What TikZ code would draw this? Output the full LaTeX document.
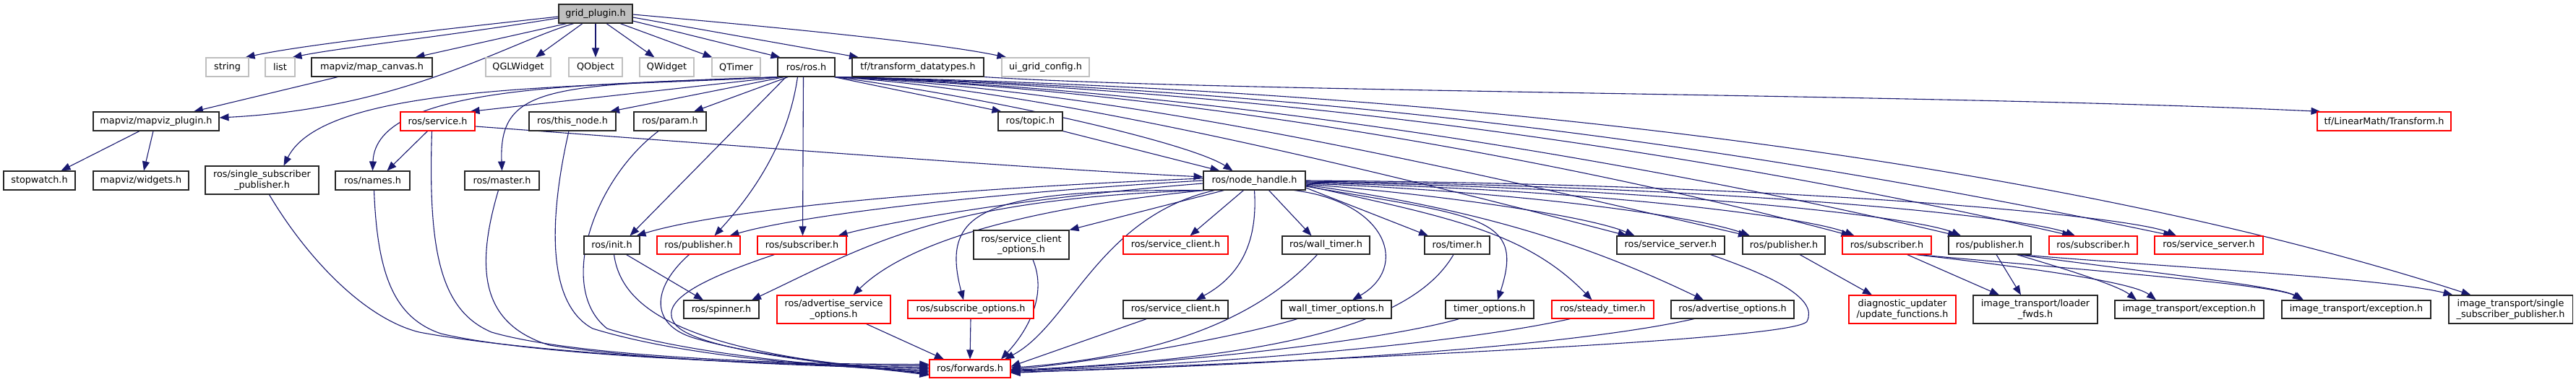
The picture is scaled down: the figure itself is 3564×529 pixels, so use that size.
\documentclass[tikz,border=0pt]{standalone}
\usepackage{fontspec}
\setmainfont{DejaVu Sans}
\usetikzlibrary{arrows.meta}
\definecolor{edgecol}{HTML}{191970}
\definecolor{graybd}{HTML}{BFBFBF}
\definecolor{gpfill}{HTML}{BFBFBF}
\pgfdeclarelayer{bg}
\pgfsetlayers{bg,main}
\begin{document}
\begin{tikzpicture}[x=1pt,y=-1pt,
  box/.style={draw=black!85, line width=1.1pt, fill=white, inner sep=0pt, align=center,
    font=\fontsize{12.8pt}{14.3pt}\selectfont, minimum height=26pt},
  redbox/.style={box, draw=red},
  graybox/.style={box, draw=graybd},
  edge/.style={draw=edgecol, line width=1.1pt, -{Triangle[length=13pt,width=10pt]}}]
\path[use as bounding box] (0,0) rectangle (3564,529);

% row 0
\node[box, fill=gpfill, minimum width=102pt] (gp) at (824,19) {grid\_plugin.h};
% row 1
\node[graybox, minimum width=59pt] (string) at (314.5,93) {string};
\node[graybox, minimum width=41pt] (list) at (387.5,93) {list};
\node[box, minimum width=167pt] (mapcanvas) at (514.5,93) {mapviz/map\_canvas.h};
\node[graybox, minimum width=90pt] (qgl) at (717,93) {QGLWidget};
\node[graybox, minimum width=74pt] (qobj) at (824,93) {QObject};
\node[graybox, minimum width=75pt] (qwid) at (922.5,93) {QWidget};
\node[graybox, minimum width=67pt] (qtimer) at (1018.5,93) {QTimer};
\node[box, minimum width=79pt] (rosros) at (1115.5,93) {ros/ros.h};
\node[box, minimum width=182pt] (tfdt) at (1270,93) {tf/transform\_datatypes.h};
\node[graybox, minimum width=121pt] (uigrid) at (1446.5,93) {ui\_grid\_config.h};
% row 2
\node[box, minimum width=174pt] (mvplugin) at (216,168) {mapviz/mapviz\_plugin.h};
\node[redbox, minimum width=103pt] (service) at (605.5,168) {ros/service.h};
\node[box, minimum width=120pt] (thisnode) at (792,168) {ros/this\_node.h};
\node[box, minimum width=100pt] (param) at (927,168) {ros/param.h};
\node[box, minimum width=89pt] (topic) at (1425.5,168) {ros/topic.h};
\node[redbox, minimum width=185pt] (lmtransform) at (3298.5,168) {tf/LinearMath/Transform.h};
% row 3
\node[box, minimum width=99pt] (stopwatch) at (54.5,250) {stopwatch.h};
\node[box, minimum width=132pt] (widgets) at (195,250) {mapviz/widgets.h};
\node[box, minimum width=157pt, minimum height=39pt] (rssp) at (362.5,249.5) {ros/single\_subscriber\\\_publisher.h};
\node[box, minimum width=103pt] (names) at (515.5,250) {ros/names.h};
\node[box, minimum width=103pt] (master) at (694.5,250) {ros/master.h};
\node[box, minimum width=141pt] (nh) at (1735.5,250) {ros/node\_handle.h};
% row 4
\node[box, minimum width=77pt, minimum height=25pt] (init) at (846.5,339.5) {ros/init.h};
\node[redbox, minimum width=115pt, minimum height=25pt] (pubr) at (966.5,339.5) {ros/publisher.h};
\node[redbox, minimum width=123pt, minimum height=25pt] (subr) at (1109.5,339.5) {ros/subscriber.h};
\node[box, minimum width=132pt, minimum height=40pt] (sco) at (1413,339) {ros/service\_client\\\_options.h};
\node[redbox, minimum width=145pt, minimum height=25pt] (scr) at (1626.5,339.5) {ros/service\_client.h};
\node[box, minimum width=121pt, minimum height=25pt] (walltimer) at (1834.5,339.5) {ros/wall\_timer.h};
\node[box, minimum width=90pt, minimum height=25pt] (timer) at (2016,339.5) {ros/timer.h};
\node[box, minimum width=149pt, minimum height=25pt] (ssb) at (2311.5,339.5) {ros/service\_server.h};
\node[box, minimum width=114pt, minimum height=25pt] (pub1) at (2468,339.5) {ros/publisher.h};
\node[redbox, minimum width=123pt, minimum height=25pt] (sub1) at (2610.5,339.5) {ros/subscriber.h};
\node[box, minimum width=114pt, minimum height=25pt] (pub2) at (2753,339.5) {ros/publisher.h};
\node[redbox, minimum width=122pt, minimum height=25pt] (sub2) at (2896,339.5) {ros/subscriber.h};
\node[redbox, minimum width=150pt, minimum height=25pt] (ssr) at (3056,339.5) {ros/service\_server.h};
% row 5
\node[box, minimum width=104pt, minimum height=25pt] (spinner) at (998,428.5) {ros/spinner.h};
\node[redbox, minimum width=157pt, minimum height=39pt] (aso) at (1153.5,428.5) {ros/advertise\_service\\\_options.h};
\node[redbox, minimum width=174pt, minimum height=25pt] (subopt) at (1343,428.5) {ros/subscribe\_options.h};
\node[box, minimum width=145pt, minimum height=25pt] (scb) at (1626.5,428.5) {ros/service\_client.h};
\node[box, minimum width=152pt, minimum height=25pt] (wto) at (1849,428.5) {wall\_timer\_options.h};
\node[box, minimum width=122pt, minimum height=25pt] (to) at (2061,428.5) {timer\_options.h};
\node[redbox, minimum width=141pt, minimum height=25pt] (steady) at (2217.5,428.5) {ros/steady\_timer.h};
\node[box, minimum width=170pt, minimum height=25pt] (advopt) at (2397,428.5) {ros/advertise\_options.h};
\node[redbox, minimum width=148pt, minimum height=39pt] (diag) at (2632,428.5) {diagnostic\_updater\\/update\_functions.h};
\node[box, minimum width=172pt, minimum height=39pt] (loader) at (2816,428.5) {image\_transport/loader\\\_fwds.h};
\node[box, minimum width=206pt, minimum height=25pt] (exc1) at (3029,428.5) {image\_transport/exception.h};
\node[box, minimum width=206pt, minimum height=25pt] (exc2) at (3260,428.5) {image\_transport/exception.h};
\node[box, minimum width=171pt, minimum height=39pt] (itssp) at (3473.5,428.5) {image\_transport/single\\\_subscriber\_publisher.h};
% row 6
\node[redbox, minimum width=112pt, minimum height=25pt] (fwd) at (1342,510.5) {ros/forwards.h};

\begin{pgfonlayer}{bg}
% grid_plugin.h
\draw[edge] ([yshift=-4pt]gp.west) .. controls (600,42) and (420,62) .. ([xshift=25pt]string.north);
\draw[edge] ([yshift=-6pt]gp.west) .. controls (620,50) and (470,66) .. ([xshift=17pt]list.north);
\draw[edge] ([xshift=-40pt]gp.south) -- ([xshift=60pt]mapcanvas.north);
\draw[edge] ([xshift=-30pt]gp.south) .. controls (700,60) and (560,150) .. ([yshift=5pt]mvplugin.east);
\draw[edge] ([xshift=-18pt]gp.south) -- ([xshift=24pt]qgl.north);
\draw[edge] (gp.south) -- (qobj.north);
\draw[edge] ([xshift=15pt]gp.south) -- ([xshift=-17pt]qwid.north);
\draw[edge] ([xshift=34pt]gp.south) -- ([xshift=-33pt]qtimer.north);
\draw[edge] ([yshift=-10pt]gp.east) -- ([xshift=-36pt]rosros.north);
\draw[edge] ([yshift=-5pt]gp.east) -- ([xshift=-82pt]tfdt.north);
\draw[edge] ([yshift=-1pt]gp.east) .. controls (1100,40) and (1300,60) .. ([xshift=-54pt]uigrid.north);
% mapviz
\draw[edge] ([xshift=-47pt]mapcanvas.south) -- ([xshift=52pt]mvplugin.north);
\draw[edge] ([xshift=-23pt]mvplugin.south) -- ([xshift=30pt]stopwatch.north);
\draw[edge] ([xshift=-4pt]mvplugin.south) -- ([xshift=4pt]widgets.north);
% ros.h to the left
\draw[edge] ([xshift=-35pt]rosros.south) -- ([xshift=45pt]service.north);
\draw[edge] ([xshift=-30pt]rosros.south) -- ([xshift=52pt]thisnode.north);
\draw[edge] ([xshift=-25pt]rosros.south) -- ([xshift=33pt]param.north);
\draw[edge] ([xshift=-37pt]rosros.south) .. controls (760,118) and (690,118) .. (master.north);
\draw[edge] ([xshift=-36pt]rosros.south) .. controls (800,118) and (520,118) .. (names.north);
\draw[edge] ([xshift=-38pt]rosros.south) .. controls (800,122) and (450,115) .. ([xshift=30pt]rssp.north);
\draw[edge] ([xshift=-28pt]rosros.south) -- ([xshift=25pt]init.north);
\draw[edge] ([xshift=-12pt]rosros.south) .. controls (1090,200) and (1040,270) .. ([xshift=22pt]pubr.north);
\draw[edge] ([xshift=-4pt]rosros.south) -- ([xshift=1pt]subr.north);
% ros.h to the right
\draw[edge] ([xshift=-2pt]rosros.south east) -- ([xshift=-40pt]topic.north);
\draw[edge] (rosros.south east) .. controls (1400,140) and (1650,200) .. ([xshift=-30pt]nh.north);
\draw[edge] (rosros.south east) .. controls (1450,125) and (1900,235) .. ([xshift=-60pt]ssb.north);
\draw[edge] (rosros.south east) .. controls (1550,125) and (2000,230) .. ([xshift=-50pt]pub1.north);
\draw[edge] (rosros.south east) .. controls (1650,125) and (2200,230) .. ([xshift=-50pt]sub1.north);
\draw[edge] (rosros.south east) .. controls (1700,125) and (2300,230) .. ([xshift=-45pt]pub2.north);
\draw[edge] (rosros.south east) .. controls (1800,125) and (2400,220) .. ([xshift=-30pt]sub2.north);
\draw[edge] (rosros.south east) .. controls (1900,125) and (2500,220) .. ([xshift=-50pt]ssr.north);
\draw[edge] (rosros.south east) .. controls (2100,125) and (2900,240) .. ([xshift=-55pt]itssp.north);
% tf
\draw[edge] (tfdt.south east) .. controls (1700,128) and (2700,130) .. ([xshift=-88pt]lmtransform.north);
% service, topic
\draw[edge] ([xshift=-14pt]service.south) -- ([xshift=20pt]names.north);
\draw[edge] ([yshift=-7pt]service.east) .. controls (1000,200) and (1400,232) .. ([yshift=5pt]nh.west);
\draw[edge] (topic.south east) -- ([xshift=-48pt]nh.north);
% node_handle to the left
\draw[edge] ([yshift=3pt]nh.west) .. controls (1300,262) and (1000,290) .. ([xshift=34pt]init.north);
\draw[edge] (nh.west) .. controls (1350,268) and (1100,300) .. ([xshift=43pt]pubr.north);
\draw[edge] ([yshift=-4pt]nh.west) .. controls (1400,275) and (1220,310) .. ([xshift=50pt]subr.north);
\draw[edge] (nh.south west) .. controls (1300,275) and (1200,340) .. ([xshift=42pt]spinner.north);
\draw[edge] ([xshift=2pt]nh.south west) .. controls (1400,290) and (1250,340) .. ([xshift=27pt]aso.north);
\draw[edge] ([xshift=5pt]nh.south west) .. controls (1360,262) and (1300,290) .. ([xshift=-10pt]subopt.north);
\draw[edge] ([xshift=-42pt]nh.south) -- (sco.north east);
\draw[edge] ([xshift=-15pt]nh.south) -- ([xshift=20pt]scr.north);
\draw[edge] (nh.south) .. controls (1740,330) and (1720,380) .. ([xshift=28pt]scb.north);
\draw[edge] ([xshift=-55pt]nh.south) .. controls (1520,300) and (1480,450) .. ([xshift=48pt]fwd.north);
% node_handle to the right
\draw[edge] ([xshift=20pt]nh.south) -- ([xshift=-20pt]walltimer.north);
\draw[edge] ([xshift=55pt]nh.south) .. controls (1920,280) and (1950,370) .. ([xshift=22pt]wto.north);
\draw[edge] ([yshift=-10pt]nh.east) -- ([xshift=-40pt]timer.north);
\draw[edge] ([yshift=-8pt]nh.east) .. controls (2050,300) and (2110,300) .. ([xshift=11pt]to.north);
\draw[edge] ([yshift=-7pt]nh.east) .. controls (2000,300) and (2110,320) .. ([xshift=-15pt]steady.north);
\draw[edge] ([yshift=-6pt]nh.east) .. controls (2050,290) and (2200,340) .. ([xshift=-40pt]advopt.north);
\draw[edge] ([yshift=-5pt]nh.east) .. controls (2000,270) and (2200,300) .. ([xshift=-50pt]ssb.north);
\draw[edge] ([yshift=-4pt]nh.east) .. controls (2100,265) and (2350,300) .. ([xshift=-47pt]pub1.north);
\draw[edge] ([yshift=-3pt]nh.east) .. controls (2200,262) and (2500,300) .. ([xshift=-45pt]sub1.north);
\draw[edge] ([yshift=-2pt]nh.east) .. controls (2300,260) and (2650,300) .. ([xshift=-40pt]pub2.north);
\draw[edge] ([yshift=-1pt]nh.east) .. controls (2400,258) and (2800,300) .. ([xshift=-25pt]sub2.north);
\draw[edge] (nh.east) .. controls (2500,255) and (2950,300) .. ([xshift=-45pt]ssr.north);
% into ros/forwards.h from the left
\draw[edge] ([xshift=-8pt]service.south) .. controls (592,350) and (610,430) .. (680,460) .. controls (800,495) and (1100,505) .. ([yshift=6pt]fwd.west);
\draw[edge] ([xshift=2pt]names.south) .. controls (522,380) and (545,440) .. (610,462) .. controls (750,495) and (1100,506) .. ([yshift=4pt]fwd.west);
\draw[edge] ([xshift=10pt]rssp.south) .. controls (420,350) and (500,440) .. (580,460) .. controls (750,492) and (1100,507) .. ([yshift=2pt]fwd.west);
\draw[edge] ([xshift=-5pt]master.south) .. controls (655,380) and (670,450) .. (760,478) .. controls (900,500) and (1150,508) .. (fwd.west);
\draw[edge] ([xshift=-5pt]thisnode.south) .. controls (760,300) and (755,420) .. (820,455) .. controls (950,495) and (1150,509) .. ([yshift=-2pt]fwd.west);
\draw[edge] ([xshift=-16pt]param.south) .. controls (820,250) and (770,400) .. (840,455) .. controls (950,490) and (1150,509) .. ([yshift=-4pt]fwd.west);
\draw[edge] ([xshift=3pt]init.south) .. controls (860,430) and (950,490) .. ([yshift=-6pt]fwd.west);
\draw[edge] ([xshift=-13pt]pubr.south) .. controls (900,400) and (900,450) .. (960,468) .. controls (1050,495) and (1200,507) .. ([yshift=-8pt]fwd.west);
\draw[edge] ([xshift=-38pt]subr.south) .. controls (960,390) and (910,420) .. (935,450) .. controls (970,490) and (1200,508) .. ([yshift=-9pt]fwd.west);
% into ros/forwards.h from above / right
\draw[edge] ([xshift=16pt]sco.south) .. controls (1450,410) and (1420,460) .. ([xshift=43pt]fwd.north);
\draw[edge] (subopt.south) -- (fwd.north);
\draw[edge] ([xshift=45pt]aso.south) -- ([xshift=-36pt]fwd.north);
\draw[edge] ([xshift=-40pt]scb.south) -- ([yshift=3pt]fwd.east);
\draw[edge] ([xshift=-12pt]walltimer.south) .. controls (1760,420) and (1650,490) .. ([yshift=1pt]fwd.east);
\draw[edge] ([xshift=-54pt]wto.south) .. controls (1700,470) and (1500,503) .. ([yshift=-1pt]fwd.east);
\draw[edge] ([xshift=-5pt]timer.south) .. controls (1960,440) and (1800,495) .. ([yshift=-2pt]fwd.east);
\draw[edge] ([xshift=-42pt]to.south) .. controls (1900,475) and (1600,505) .. ([yshift=-3pt]fwd.east);
\draw[edge] ([xshift=-45pt]steady.south) .. controls (2000,480) and (1650,505) .. ([yshift=-4pt]fwd.east);
\draw[edge] ([xshift=-53pt]advopt.south) .. controls (2150,485) and (1700,508) .. ([yshift=-5pt]fwd.east);
\draw[edge] ([xshift=55pt]ssb.south) .. controls (2460,385) and (2515,415) .. (2500,445) .. controls (2485,470) and (1900,495) .. ([yshift=-6pt]fwd.east);
% spinner
\draw[edge] ([xshift=20pt]init.south) -- ([xshift=-25pt]spinner.north);
% image_transport and diagnostic
\draw[edge] ([xshift=22pt]pub1.south) -- ([xshift=-42pt]diag.north);
\draw[edge] ([xshift=28pt]sub1.south) -- ([xshift=-50pt]loader.north);
\draw[edge] ([xshift=9pt]pub2.south) -- ([xshift=-20pt]loader.north);
\draw[edge] ([xshift=40pt]sub1.south) .. controls (2800,370) and (2950,390) .. ([xshift=-46pt]exc1.north);
\draw[edge] ([xshift=42pt]sub1.south) .. controls (2900,375) and (3150,395) .. ([xshift=-75pt]exc2.north);
\draw[edge] ([xshift=37pt]pub2.south) .. controls (2850,370) and (2930,395) .. ([xshift=-73pt]exc1.north);
\draw[edge] ([xshift=39pt]pub2.south) .. controls (2950,375) and (3150,395) .. ([xshift=-73pt]exc2.north);
\draw[edge] ([xshift=41pt]pub2.south) .. controls (3000,370) and (3300,385) .. ([xshift=-80pt]itssp.north);
\end{pgfonlayer}
\end{tikzpicture}
\end{document}
